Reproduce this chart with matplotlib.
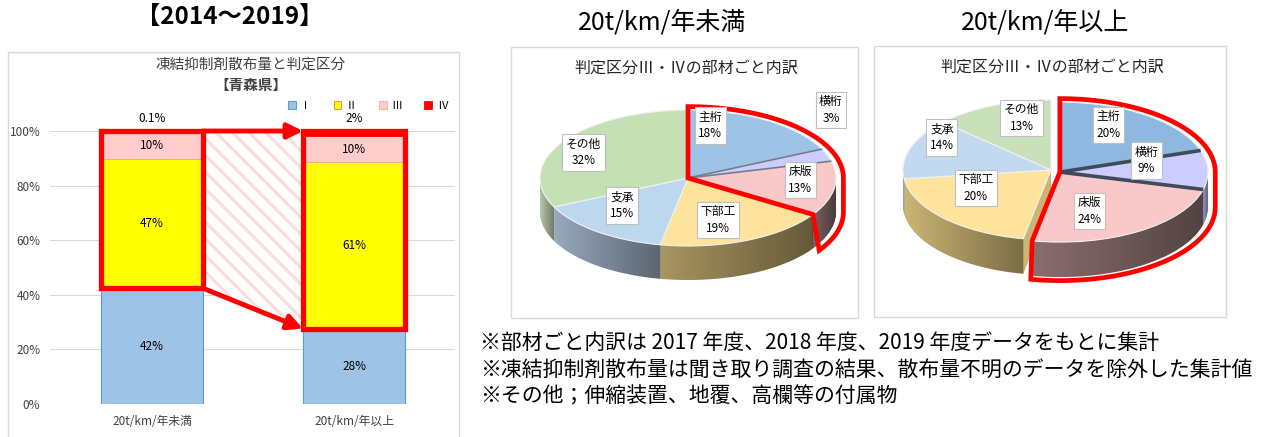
import numpy as np
import matplotlib
matplotlib.use("Agg")
import matplotlib.pyplot as plt
from matplotlib.patches import Rectangle, Polygon

plt.rcParams['font.family'] = ['Noto Sans CJK JP', 'DejaVu Sans']
plt.rcParams['hatch.linewidth'] = 2.3

W, H = 1269, 437

# stacked bar data (%)
bar_cats = ["20t/km/年未満", "20t/km/年以上"]
grades = ["Ⅰ", "Ⅱ", "Ⅲ", "Ⅳ"]
grade_I = [42.4, 27.6]
grade_II = [47.4, 60.9]
grade_III = [10.1, 9.7]
grade_IV = [0.1, 1.8]

# pie data (%)
parts = ["主桁", "横桁", "床版", "下部工", "支承", "その他"]
share_under = [18, 3, 13, 19, 15, 32]
share_over = [20, 9, 24, 20, 14, 13]

notes = ["※部材ごと内訳は 2017 年度、2018 年度、2019 年度データをもとに集計",
         "※凍結抑制剤散布量は聞き取り調査の結果、散布量不明のデータを除外した集計値",
         "※その他；伸縮装置、地覆、高欄等の付属物"]


def fx(x):
    return x / W


def fy(y):
    return 1 - y / H


fig = plt.figure(figsize=(W / 100, H / 100), dpi=100)

# frames
for x0, y0, x1, y1 in [(8, 52, 459, 445), (511, 47, 858, 318), (874, 46, 1226, 317)]:
    fig.add_artist(Rectangle((fx(x0), fy(y1)), (x1 - x0) / W, (y1 - y0) / H,
                             transform=fig.transFigure, fill=False,
                             edgecolor='#d9d9d9', lw=1))

fig.text(fx(230), fy(18), "【2014～2019】", ha='center', va='center',
         fontsize=17.5, weight='bold')
fig.text(fx(251), fy(65), "凍結抑制剤散布量と判定区分", ha='center', va='center',
         fontsize=10.5, color='#404040')
fig.text(fx(251), fy(85), "【青森県】", ha='center', va='center',
         fontsize=10.5, weight='bold', color='#404040')
fig.text(fx(662), fy(22), "20t/km/年未満", ha='center', va='center', fontsize=18)
fig.text(fx(1045), fy(22), "20t/km/年以上", ha='center', va='center', fontsize=18)
for i, line in enumerate(notes):
    fig.text(fx(480), fy(343 + 26.5 * i), line, ha='left', va='center', fontsize=15)

# ---- stacked bars ----
ax = fig.add_axes([fx(50), fy(404), (455 - 50) / W, (404 - 131) / H])
x = np.arange(len(bar_cats))
w = 0.505
I = np.array(grade_I) / 100
II = np.array(grade_II) / 100
III = np.array(grade_III) / 100
IV = np.array(grade_IV) / 100

b1 = ax.bar(x, I, w, color='#9dc3e6', edgecolor='#5b9bd5', lw=0.8, zorder=2)
b2 = ax.bar(x, II, w, bottom=I, color='#ffff00', edgecolor='#ed7d31', lw=0.6, zorder=2)
b3 = ax.bar(x, III, w, bottom=I + II, color='#ffcccc', edgecolor='#f4b183', lw=0.6, zorder=2)
b4 = ax.bar(x, IV, w, bottom=I + II + III, color='#ff0000', edgecolor='#ff0000', lw=0.6, zorder=2)
total = I + II + III + IV


def pct(v):
    return f"{v:.1f}%" if v < 1 else f"{v:.0f}%"


for i in range(len(x)):
    ax.text(x[i], I[i] / 2, pct(grade_I[i]), ha='center', va='center', fontsize=8.5, zorder=5)
    ax.text(x[i], I[i] + II[i] / 2, pct(grade_II[i]), ha='center', va='center', fontsize=8.5, zorder=5)
    ax.text(x[i], I[i] + II[i] + III[i] / 2, pct(grade_III[i]), ha='center', va='center',
            fontsize=8.5, zorder=5)
    ax.text(x[i], total[i] + 0.045, pct(grade_IV[i]), ha='center', va='center', fontsize=8.5,
            clip_on=False)
    ax.add_patch(Rectangle((x[i] - w / 2, I[i]), w, total[i] - I[i], fill=False,
                           edgecolor='#ff0000', lw=3.8, zorder=4, clip_on=False))

# hatched band and arrows between the two bars
xr, xl = x[0] + w / 2, x[1] - w / 2
ax.add_patch(Polygon([(xr, total[0]), (xl, total[1]), (xl, I[1]), (xr, I[0])],
                     facecolor='white', edgecolor='#fcdcdc', hatch='\\\\', lw=0, zorder=1.5))
arrow = dict(arrowstyle='-|>,head_length=0.9,head_width=0.45', color='#ff0000', lw=3.5,
             shrinkA=0, shrinkB=0)
ax.annotate('', xy=(xl, total[1]), xytext=(xr, total[0]), arrowprops=arrow,
            annotation_clip=False, zorder=5)
ax.annotate('', xy=(xl, I[1]), xytext=(xr, I[0]), arrowprops=arrow,
            annotation_clip=False, zorder=5)

ax.set_xlim(-0.505, 1.5)
ax.set_ylim(0, 1.0)
ax.set_yticks(np.arange(0, 1.01, 0.2))
ax.set_yticklabels([f"{int(round(t * 100))}%" for t in np.arange(0, 1.01, 0.2)])
ax.set_xticks(x)
ax.set_xticklabels(bar_cats)
ax.tick_params(length=0, labelsize=8.5, colors='#404040')
ax.tick_params(axis='y', pad=7)
ax.tick_params(axis='x', pad=8)
ax.grid(axis='y', color='#d9d9d9', lw=0.8, zorder=0)
ax.set_axisbelow(True)
for s in ax.spines.values():
    s.set_visible(False)
ax.legend([b1, b2, b3, b4], grades, ncol=4, loc='center',
          bbox_to_anchor=(fx(368), fy(106)), bbox_transform=fig.transFigure,
          frameon=False, fontsize=8, handlelength=0.7, handleheight=0.7,
          columnspacing=2.0, handletextpad=0.4, borderpad=0)


# ---- pseudo 3D pies ----
def shade_side(pa, wedge, depth):
    """dark left-to-right gradient on the visible side face of one wedge"""
    cx0, cy0 = wedge.center
    th = np.radians(np.linspace(wedge.theta1, wedge.theta2, 120))
    th = th[np.sin(th) <= 0]
    if len(th) < 2:
        return
    xs = cx0 + np.cos(th)
    top = cy0 + np.sin(th)
    verts = np.column_stack([np.concatenate([xs, xs[::-1]]),
                             np.concatenate([top, (top - depth)[::-1]])])
    clip = Polygon(verts, closed=True, facecolor='none', edgecolor='none')
    pa.add_patch(clip)
    ramp = np.zeros((2, 64, 4))
    ramp[..., 3] = np.linspace(0.0, 0.4, 64)
    img = pa.imshow(ramp, extent=(xs.min(), xs.max(), top.min() - depth, top.max()),
                    aspect='auto', zorder=1.5, interpolation='bilinear')
    img.set_clip_path(clip)


def draw_pie(frame, centre, shares, top_cols, side_cols, shift, lab_pos, title, ry, sep):
    x0, y0, x1, y1 = frame
    cx, cy = centre
    rx = 148
    depth = 0.5
    layers = 40
    pa = fig.add_axes([fx(x0), fy(y1), (x1 - x0) / W, (y1 - y0) / H])
    frac = np.array(shares) / 100
    start_b = 90 - 360 * frac[:3].sum()
    groups = [(frac[:3], 90, shift, top_cols[:3], side_cols[:3]),
              (frac[3:], start_b, (0, 0), top_cols[3:], side_cols[3:])]
    for k in range(layers, 0, -1):
        for fr, st, (sx, sy), tc, sc in groups:
            pa.pie(fr, startangle=st, counterclock=False, normalize=False, colors=sc,
                   center=(sx, sy - depth * k / layers), radius=1,
                   wedgeprops=dict(linewidth=0))
    tops = []
    for fr, st, (sx, sy), tc, sc in groups:
        wd, _ = pa.pie(fr, startangle=st, counterclock=False, normalize=False, colors=tc,
                       center=(sx, sy), radius=1,
                       wedgeprops=dict(linewidth=0.8, edgecolor='#f2f2f2'))
        for wg in wd:
            wg.set_zorder(2)
        tops.extend(wd)
    for wg in tops:
        shade_side(pa, wg, depth)
    # dark separation lines around 横桁
    wk = tops[1]
    for t in (wk.theta1, wk.theta2):
        a = np.radians(t)
        pa.plot([wk.center[0], wk.center[0] + np.cos(a)],
                [wk.center[1], wk.center[1] + np.sin(a)],
                color=sep[0], lw=sep[1], zorder=3, solid_capstyle='butt')
    # red outline of the highlighted group
    sx, sy = shift
    t_end = start_b
    rr = 1.05
    ta = np.radians(np.linspace(90, 0, 40))
    tb = np.radians(np.linspace(0, t_end, 40))
    px = np.concatenate([[sx], sx + rr * np.cos(ta), sx + rr * np.cos(tb),
                         [sx + np.cos(np.radians(t_end))]])
    py = np.concatenate([[sy], sy + rr * np.sin(ta), sy - depth + rr * np.sin(tb),
                         [sy + np.sin(np.radians(t_end))]])
    pa.add_patch(Polygon(np.column_stack([px, py]), closed=True, fill=False,
                         edgecolor='#ff0000', lw=3.4, zorder=6, joinstyle='miter'))
    # labels
    for name, v, (ang, r) in zip(parts, shares, lab_pos):
        a = np.radians(ang)
        pa.text(r * np.cos(a), r * np.sin(a), f"{name}\n{v}%", ha='center', va='center',
                fontsize=8.5, linespacing=1.35, zorder=7,
                bbox=dict(boxstyle='square,pad=0.3', fc='white', ec='#bfbfbf', lw=0.8))
    pa.set_aspect('auto')
    pa.set_xlim((x0 - cx) / rx, (x1 - cx) / rx)
    pa.set_ylim((cy - y1) / ry, (cy - y0) / ry)
    pa.axis('off')
    fig.text(fx((x0 + x1) / 2 + 2), fy(y0 + 21), title, ha='center', va='center',
             fontsize=11.5, color='#262626')
    return pa


top_c1 = ['#9dc3e6', '#ccccff', '#f9c8c8', '#fee39d', '#bdd7ee', '#c5e0b4']
side_c1 = ['#7f9fbe', '#9e9ec8', '#7a6060', '#a8955f', '#98a8bd', '#b4c7aa']
top_c2 = ['#8fb8e0', '#ccccff', '#f9c8c8', '#fde39b', '#c2d9ef', '#c8e1b8']
side_c2 = ['#7290ac', '#9a9ad0', '#8a6e6e', '#cbb574', '#a4b6c8', '#b7cbaa']

pie_title = "判定区分Ⅲ・Ⅳの部材ごと内訳"
p1 = draw_pie((511, 47, 858, 318), (688, 178), share_under, top_c1, side_c1, (0, 0),
              [(79, 0.79), (46, 1.39), (-2, 0.76), (-72, 0.65), (-138, 0.60), (152, 0.80)],
              pie_title, 68, ('#6e7b8b', 1.2))
p2 = draw_pie((874, 46, 1226, 317), (1051, 170), share_over, top_c2, side_c2, (0.06, -0.03),
              [(59, 0.75), (12, 0.66), (-66, 0.64), (-153, 0.57), (148, 0.87), (105, 0.77)],
              pie_title, 70, ('#3d4b5c', 2.6))

plt.savefig("out.png", dpi=100)
